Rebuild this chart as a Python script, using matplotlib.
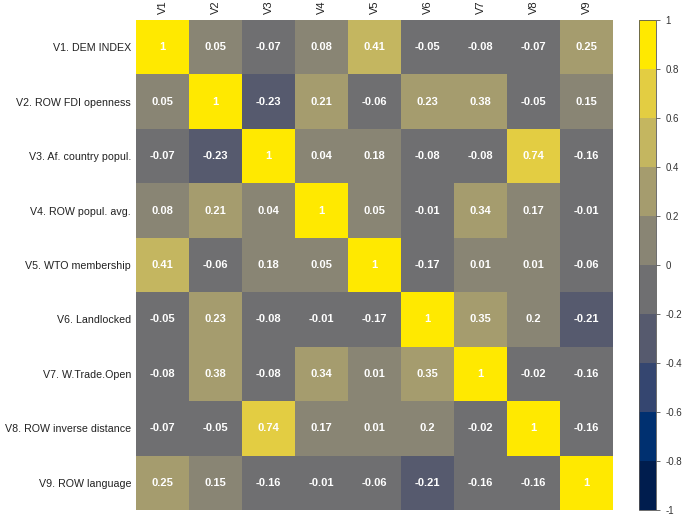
import matplotlib.pyplot as plt
import numpy as np
from matplotlib.colors import ListedColormap, BoundaryNorm

plt.rcParams['font.family'] = ['Liberation Sans', 'DejaVu Sans']

col_labels = ["V1", "V2", "V3", "V4", "V5", "V6", "V7", "V8", "V9"]
row_labels = ["V1. DEM INDEX", "V2. ROW FDI openness", "V3. Af. country popul.",
              "V4. ROW popul. avg.", "V5. WTO membership", "V6. Landlocked",
              "V7. W.Trade.Open", "V8. ROW inverse distance", "V9. ROW language"]

corr = np.array([
    [1, 0.05, -0.07, 0.08, 0.41, -0.05, -0.08, -0.07, 0.25],
    [0.05, 1, -0.23, 0.21, -0.06, 0.23, 0.38, -0.05, 0.15],
    [-0.07, -0.23, 1, 0.04, 0.18, -0.08, -0.08, 0.74, -0.16],
    [0.08, 0.21, 0.04, 1, 0.05, -0.01, 0.34, 0.17, -0.01],
    [0.41, -0.06, 0.18, 0.05, 1, -0.17, 0.01, 0.01, -0.06],
    [-0.05, 0.23, -0.08, -0.01, -0.17, 1, 0.35, 0.2, -0.21],
    [-0.08, 0.38, -0.08, 0.34, 0.01, 0.35, 1, -0.02, -0.16],
    [-0.07, -0.05, 0.74, 0.17, 0.01, 0.2, -0.02, 1, -0.16],
    [0.25, 0.15, -0.16, -0.01, -0.06, -0.21, -0.16, -0.16, 1],
])

# binned cividis-like palette, one colour per 0.2 step
colors = ["#001d4e", "#003070", "#354670", "#565a6e", "#6f6f71",
          "#898574", "#a59c6e", "#c4b660", "#e3cd42", "#ffe900"]
bounds = np.linspace(-1, 1, 11)
cmap = ListedColormap(colors)
norm = BoundaryNorm(bounds, cmap.N, clip=True)

W, H = 685, 518
fig = plt.figure(figsize=(W / 100, H / 100), dpi=100)
ax = fig.add_axes([136 / W, 1 - 510 / H, 477 / W, 490 / H])
cax = fig.add_axes([639 / W, 1 - 510 / H, 17 / W, 490 / H])

im = ax.pcolormesh(corr, cmap=cmap, norm=norm)
ax.set_xlim(0, 9)
ax.set_ylim(9, 0)

for i in range(corr.shape[0]):
    for j in range(corr.shape[1]):
        v = corr[i, j]
        txt = "1" if v == 1 else ("%g" % v)
        ax.text(j + 0.5, i + 0.5, txt, ha="center", va="center",
                color="white", fontsize=8, fontweight="bold")

ax.xaxis.tick_top()
ax.set_xticks(np.arange(9) + 0.5)
ax.set_xticklabels(col_labels, rotation=90, fontsize=8, color="#222222")
ax.set_yticks(np.arange(9) + 0.5)
ax.set_yticklabels(row_labels, fontsize=7.7, color="#222222")
ax.tick_params(axis="y", length=0, pad=3.5)
ax.tick_params(axis="x", length=0, pad=4)
for s in ax.spines.values():
    s.set_visible(False)

cb = fig.colorbar(im, cax=cax, ticks=bounds)
cb.ax.set_yticklabels(["%g" % b if abs(b) > 1e-9 else "0" for b in bounds])
cb.ax.tick_params(labelsize=7, length=3, width=0.5, pad=4, colors="#333333")
cb.outline.set_linewidth(0.6)
cb.outline.set_edgecolor("#555555")

plt.savefig("out.png", dpi=100)
